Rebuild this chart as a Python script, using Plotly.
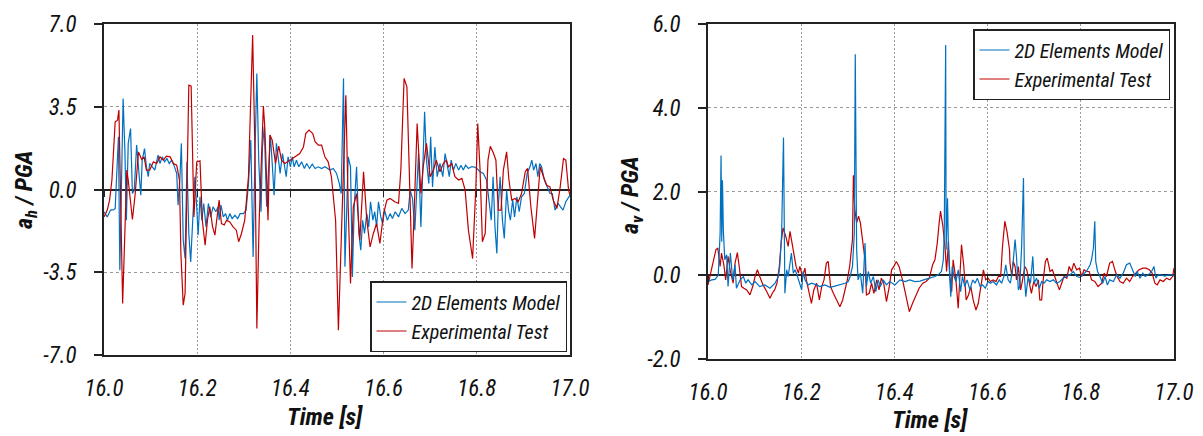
import plotly.graph_objects as go

# ---------------- data: horizontal acceleration (left) ----------------
t_h_model = [16.000, 16.007, 16.014, 16.021, 16.024, 16.027, 16.031, 16.034, 16.038, 16.041, 16.045, 16.048,
             16.052, 16.057, 16.061, 16.065, 16.070, 16.074, 16.079, 16.082, 16.087, 16.091, 16.095, 16.098,
             16.103, 16.109, 16.116, 16.120, 16.125, 16.130, 16.135, 16.140, 16.145, 16.150, 16.156, 16.159,
             16.163, 16.166, 16.170, 16.174, 16.178, 16.182, 16.186, 16.190, 16.195, 16.199, 16.202, 16.206,
             16.210, 16.214, 16.219, 16.224, 16.229, 16.234, 16.240, 16.245, 16.247, 16.251, 16.256, 16.261,
             16.265, 16.270, 16.275, 16.281, 16.287, 16.292, 16.299, 16.305, 16.310, 16.315, 16.320, 16.324,
             16.328, 16.332, 16.337, 16.340, 16.344, 16.349, 16.352, 16.357, 16.361, 16.365, 16.370, 16.374,
             16.378, 16.383, 16.387, 16.391, 16.395, 16.400, 16.404, 16.408, 16.413, 16.418, 16.424, 16.430,
             16.435, 16.441, 16.447, 16.453, 16.460, 16.467, 16.474, 16.485, 16.492, 16.499, 16.505, 16.509,
             16.514, 16.517, 16.521, 16.524, 16.529, 16.533, 16.537, 16.542, 16.547, 16.551, 16.555, 16.559,
             16.564, 16.568, 16.572, 16.577, 16.581, 16.585, 16.589, 16.594, 16.598, 16.602, 16.608, 16.614,
             16.619, 16.625, 16.632, 16.639, 16.646, 16.653, 16.657, 16.662, 16.667, 16.671, 16.675, 16.680,
             16.684, 16.688, 16.692, 16.697, 16.701, 16.705, 16.710, 16.715, 16.721, 16.727, 16.732, 16.738,
             16.741, 16.745, 16.750, 16.755, 16.761, 16.766, 16.771, 16.776, 16.782, 16.788, 16.794, 16.800,
             16.807, 16.814, 16.821, 16.826, 16.831, 16.835, 16.839, 16.843, 16.846, 16.850, 16.855, 16.859,
             16.864, 16.868, 16.872, 16.877, 16.881, 16.886, 16.891, 16.896, 16.902, 16.908, 16.914, 16.918,
             16.922, 16.927, 16.931, 16.935, 16.939, 16.945, 16.951, 16.957, 16.962, 16.968, 16.974, 16.979,
             16.985, 16.991, 16.997, 17.000]
a_h_model = [-0.94, -1.16, -0.87, -0.85, -0.80, 0.75, 2.23, -3.41, 0.11, 3.85, 1.52, -1.30,
             1.95, 2.58, -0.17, -0.03, 1.88, 0.96, -0.24, 1.24, 1.73, 0.96, 0.54, 1.10,
             0.96, 0.82, 1.45, 1.10, 1.38, 1.17, 1.31, 1.10, 1.24, 1.03, 0.68, -0.66,
             0.54, 1.95, -2.14, -2.92, 1.17, -1.86, -3.06, -1.30, 0.54, -0.73, -1.93, -0.31,
             -1.30, -0.59, -1.58, -0.59, -1.16, -0.73, -0.94, -0.73, -1.30, -0.66, -1.16, -1.02,
             -1.30, -1.02, -1.23, -1.09, -1.23, -1.02, -1.02, -0.87, 0.25, 2.09, -2.85, 1.52,
             4.91, 1.24, -0.94, 1.80, 2.65, -0.73, 0.54, 2.30, 1.10, -0.24, 1.95, 1.24,
             0.68, 1.52, 1.03, 0.54, 1.38, 0.96, 1.38, 0.96, 1.24, 0.96, 1.17, 0.89,
             1.10, 0.89, 1.07, 0.89, 0.96, 0.89, 0.96, 0.82, 0.89, 0.68, 0.25, -0.17,
             4.70, -3.27, -0.73, 1.38, 0.96, -3.70, -0.73, 0.96, -1.86, -2.57, -1.30, -1.86,
             -1.02, -1.58, -0.52, -1.30, -0.94, -1.58, -0.52, -1.16, -1.44, -0.87, -1.30, -1.02,
             -1.23, -0.94, -1.16, -0.80, -1.02, -0.87, -0.03, -0.38, -1.72, -0.31, 1.52, -1.58,
             0.82, 3.29, 1.24, 0.25, 2.23, 0.11, 1.80, 0.54, 1.10, 0.54, 1.52, 0.96,
             0.54, 1.24, 0.82, 1.10, 0.82, 1.03, 0.82, 1.03, 0.89, 0.96, 0.96, 0.89,
             0.75, 0.68, 0.40, -0.45, -1.30, 0.54, -1.58, -2.71, -0.73, 0.54, -1.30, -2.07,
             -0.03, -0.87, -1.30, -0.45, -1.16, -0.31, -0.94, -0.31, -0.17, 0.68, 0.96, 1.24,
             0.82, 1.10, 0.54, 1.10, 0.96, 0.40, 0.11, -0.17, -0.17, -0.87, -0.59, -0.73,
             -0.87, -0.52, -0.31, -0.24]

t_h_test = [16.000, 16.007, 16.012, 16.017, 16.024, 16.029, 16.032, 16.040, 16.049, 16.052, 16.061, 16.067,
            16.074, 16.081, 16.086, 16.091, 16.098, 16.106, 16.113, 16.120, 16.127, 16.134, 16.142, 16.149,
            16.156, 16.162, 16.165, 16.170, 16.174, 16.177, 16.182, 16.187, 16.193, 16.199, 16.206, 16.211,
            16.217, 16.222, 16.227, 16.233, 16.238, 16.247, 16.252, 16.258, 16.263, 16.270, 16.277, 16.284,
            16.289, 16.295, 16.302, 16.310, 16.319, 16.324, 16.328, 16.333, 16.342, 16.345, 16.352, 16.356,
            16.361, 16.368, 16.375, 16.381, 16.388, 16.399, 16.410, 16.420, 16.428, 16.433, 16.440, 16.448,
            16.453, 16.460, 16.467, 16.474, 16.481, 16.488, 16.497, 16.503, 16.510, 16.519, 16.524, 16.529,
            16.535, 16.542, 16.549, 16.557, 16.564, 16.571, 16.578, 16.585, 16.592, 16.600, 16.607, 16.614,
            16.624, 16.632, 16.637, 16.644, 16.650, 16.657, 16.661, 16.665, 16.672, 16.680, 16.685, 16.692,
            16.700, 16.707, 16.713, 16.721, 16.728, 16.735, 16.739, 16.746, 16.753, 16.761, 16.768, 16.775,
            16.782, 16.791, 16.798, 16.802, 16.807, 16.812, 16.818, 16.824, 16.829, 16.836, 16.841, 16.846,
            16.852, 16.857, 16.864, 16.869, 16.875, 16.882, 16.889, 16.896, 16.904, 16.909, 16.916, 16.924,
            16.931, 16.936, 16.943, 16.950, 16.957, 16.964, 16.972, 16.979, 16.986, 16.991, 16.997, 17.000]
a_h_test = [-1.16, -0.87, -0.45, 0.40, 2.86, 2.93, 3.36, -4.82, 0.82, 0.40, -1.27, -0.17,
            1.59, 1.27, 1.38, 0.82, 0.82, 1.17, 1.10, 1.38, 1.24, 1.41, 1.38, 1.10,
            1.03, 0.40, -2.70, -4.89, -4.40, -1.30, 4.41, 4.37, -1.16, 1.17, 1.21, -1.30,
            -2.36, -1.30, -0.73, -1.58, -1.93, -0.45, -1.44, -1.50, -1.30, -1.37, -1.58, -1.72,
            -2.21, -1.86, -1.30, 0.54, 6.53, 1.52, -5.88, -1.30, 3.53, 2.65, -1.30, 2.30,
            2.09, 1.10, 1.83, 1.24, 1.10, 1.24, 1.38, 1.52, 1.80, 2.37, 2.51, 2.37,
            2.02, 1.88, 1.88, 1.38, 1.17, 0.54, -1.30, -5.95, -1.58, 3.99, -0.73, -3.98,
            -0.73, -0.17, -2.14, 0.75, -1.30, -2.43, -1.86, -1.44, -2.28, -1.02, -0.45, -0.38,
            -0.52, -0.59, 0.82, 4.70, 4.34, -0.73, -3.34, -1.30, 2.79, -0.17, 0.96, 1.95,
            0.54, 0.82, 1.24, 0.75, 1.10, 1.24, 0.96, 1.10, 0.54, 0.40, 0.47, -0.03,
            -1.72, -2.92, 0.11, 2.79, 0.82, -2.21, -1.86, 1.24, 1.83, 1.52, 1.24, -0.87,
            -0.87, 0.82, 1.59, 0.40, -0.45, -0.38, -0.52, -0.17, 0.75, 0.89, -0.73, -2.07,
            -0.45, 0.96, 0.54, 0.18, 0.11, -0.45, -0.80, 0.11, 1.31, 1.24, -0.03, -0.24]

# ---------------- data: vertical acceleration (right) ----------------
t_v_model = [16.000, 16.008, 16.015, 16.022, 16.026, 16.028, 16.0295, 16.031, 16.033, 16.036, 16.040, 16.043,
             16.048, 16.053, 16.058, 16.061, 16.069, 16.076, 16.081, 16.086, 16.094, 16.101, 16.111, 16.122,
             16.133, 16.144, 16.151, 16.154, 16.158, 16.162, 16.165, 16.169, 16.172, 16.176, 16.179, 16.183,
             16.187, 16.192, 16.196, 16.201, 16.204, 16.208, 16.215, 16.222, 16.233, 16.240, 16.251, 16.262,
             16.272, 16.283, 16.294, 16.301, 16.305, 16.310, 16.314, 16.316, 16.319, 16.322, 16.327, 16.332,
             16.337, 16.340, 16.344, 16.349, 16.355, 16.360, 16.365, 16.370, 16.376, 16.383, 16.390, 16.401,
             16.412, 16.423, 16.433, 16.444, 16.455, 16.466, 16.476, 16.487, 16.494, 16.501, 16.505, 16.507,
             16.510, 16.511, 16.514, 16.516, 16.519, 16.521, 16.524, 16.528, 16.532, 16.537, 16.542, 16.546,
             16.551, 16.556, 16.562, 16.568, 16.573, 16.578, 16.584, 16.589, 16.595, 16.601, 16.606, 16.612,
             16.619, 16.625, 16.630, 16.635, 16.639, 16.644, 16.649, 16.654, 16.659, 16.662, 16.666, 16.669,
             16.673, 16.677, 16.679, 16.682, 16.687, 16.692, 16.697, 16.700, 16.705, 16.711, 16.716, 16.721,
             16.727, 16.734, 16.741, 16.748, 16.755, 16.762, 16.770, 16.777, 16.784, 16.791, 16.798, 16.805,
             16.812, 16.820, 16.823, 16.827, 16.830, 16.832, 16.836, 16.841, 16.847, 16.852, 16.857, 16.862,
             16.870, 16.877, 16.884, 16.891, 16.898, 16.905, 16.913, 16.917, 16.921, 16.927, 16.933, 16.938,
             16.945, 16.952, 16.957, 16.961, 16.966, 16.973, 16.980, 16.988, 16.995, 17.000]
a_v_model = [-0.15, -0.11, -0.10, 0.00, 1.00, 2.86, 0.80, 2.27, 1.05, 0.37, 0.49, -0.27,
             0.53, -0.11, 0.25, -0.31, -0.11, -0.03, -0.19, -0.11, -0.23, -0.15, -0.27, -0.23,
             -0.31, -0.19, -0.03, 0.21, 1.00, 3.29, -0.43, 0.13, -0.03, 0.29, 0.53, 0.05,
             0.13, -0.03, -0.19, -0.35, 0.09, -0.11, -0.23, -0.19, -0.23, -0.27, -0.23, -0.29,
             -0.26, -0.23, -0.19, -0.15, -0.03, 0.21, 1.00, 5.28, 0.61, -0.11, 0.05, -0.43,
             0.77, -0.27, 0.09, -0.19, -0.03, -0.39, -0.11, -0.27, -0.11, -0.23, -0.15, -0.23,
             -0.11, -0.15, -0.11, -0.15, -0.14, -0.10, -0.07, -0.03, 0.01, 0.09, 0.37, 1.00,
             5.50, 0.61, 1.84, 0.61, -0.11, -0.51, 0.21, -0.03, -0.15, 0.13, -0.39, -0.03,
             -0.27, -0.11, -0.35, -0.11, -0.19, -0.07, -0.27, -0.23, -0.31, -0.15, -0.19, -0.15,
             -0.23, -0.11, -0.19, -0.03, 0.25, -0.11, -0.19, 0.21, 0.85, 0.45, -0.35, -0.27,
             0.69, 2.32, -0.03, -0.51, -0.03, -0.19, 0.45, -0.19, -0.07, -0.31, -0.15, -0.19,
             -0.11, -0.15, -0.11, -0.19, -0.15, -0.07, -0.03, 0.01, 0.09, -0.03, -0.05, 0.01,
             0.09, 0.25, 0.37, 0.65, 1.29, 0.33, 0.09, -0.03, -0.19, -0.03, -0.23, -0.11,
             -0.15, 0.01, -0.07, 0.05, 0.25, 0.29, 0.09, -0.03, 0.09, -0.07, 0.05, -0.03,
             0.01, 0.09, 0.21, -0.07, 0.01, 0.01, -0.02, 0.01, 0.01, -0.02]

t_v_test = [16.000, 16.006, 16.011, 16.017, 16.021, 16.026, 16.029, 16.034, 16.038, 16.043, 16.048, 16.054,
            16.058, 16.063, 16.067, 16.072, 16.077, 16.083, 16.090, 16.096, 16.101, 16.106, 16.111, 16.118,
            16.126, 16.133, 16.138, 16.143, 16.148, 16.153, 16.157, 16.161, 16.167, 16.172, 16.176, 16.180,
            16.184, 16.189, 16.194, 16.197, 16.203, 16.208, 16.211, 16.217, 16.222, 16.227, 16.233, 16.239,
            16.244, 16.249, 16.254, 16.258, 16.263, 16.269, 16.276, 16.283, 16.289, 16.294, 16.299, 16.304,
            16.310, 16.312, 16.315, 16.319, 16.323, 16.327, 16.332, 16.337, 16.340, 16.346, 16.351, 16.356,
            16.362, 16.367, 16.372, 16.377, 16.383, 16.389, 16.394, 16.399, 16.404, 16.410, 16.419, 16.426,
            16.432, 16.439, 16.446, 16.453, 16.461, 16.468, 16.475, 16.482, 16.487, 16.492, 16.496, 16.499,
            16.504, 16.509, 16.512, 16.516, 16.519, 16.523, 16.526, 16.532, 16.537, 16.541, 16.544, 16.549,
            16.554, 16.559, 16.564, 16.569, 16.575, 16.580, 16.585, 16.591, 16.596, 16.601, 16.606, 16.612,
            16.618, 16.623, 16.628, 16.632, 16.637, 16.642, 16.647, 16.648, 16.652, 16.655, 16.659, 16.662,
            16.666, 16.671, 16.675, 16.680, 16.684, 16.689, 16.694, 16.699, 16.704, 16.709, 16.712, 16.716,
            16.719, 16.724, 16.728, 16.734, 16.739, 16.744, 16.749, 16.754, 16.759, 16.764, 16.770, 16.775,
            16.780, 16.785, 16.791, 16.797, 16.802, 16.807, 16.812, 16.818, 16.823, 16.830, 16.837, 16.845,
            16.850, 16.855, 16.862, 16.868, 16.873, 16.878, 16.884, 16.891, 16.898, 16.905, 16.911, 16.918,
            16.925, 16.933, 16.940, 16.947, 16.953, 16.959, 16.964, 16.970, 16.977, 16.984, 16.991, 16.997,
            17.000]
a_v_test = [-0.23, 0.05, 0.33, 0.61, 0.65, 0.21, 0.53, 0.25, -0.11, 0.45, 0.09, -0.19,
            0.29, 0.54, 0.21, -0.27, -0.31, -0.35, -0.47, -0.27, -0.03, 0.13, -0.03, -0.23,
            -0.39, -0.55, -0.43, -0.35, -0.19, 0.21, 0.77, 1.13, 0.93, 0.69, 1.05, 0.77,
            0.45, 0.21, 0.05, 0.21, -0.03, 0.17, -0.11, -0.43, -0.67, -0.35, -0.19, -0.59,
            -0.27, -0.11, 0.29, 0.33, -0.27, -0.43, -0.59, -0.75, -0.59, -0.35, -0.11, 0.21,
            0.85, 2.39, 1.57, 1.25, 1.41, 1.25, 0.77, 0.37, -0.47, -0.43, -0.19, -0.43,
            -0.11, -0.35, -0.07, -0.19, -0.63, -0.27, 0.13, 0.21, 0.33, 0.21, -0.19, -0.59,
            -0.87, -0.67, -0.51, -0.31, -0.19, -0.15, -0.07, 0.25, 0.37, 0.77, 1.25, 1.53,
            1.17, 0.61, 0.09, 0.81, -0.03, -0.39, 0.37, -0.11, -0.79, -0.03, 0.73, 0.21,
            -0.59, -0.47, -0.27, -0.59, -0.83, -0.67, -0.27, 0.13, -0.11, -0.07, -0.15, -0.11,
            -0.15, -0.03, -0.03, 0.69, 1.29, 1.01, 0.61, 0.29, -0.03, 0.33, 0.21, -0.11,
            0.21, -0.35, -0.11, 0.21, 0.13, -0.19, -0.43, -0.15, -0.27, -0.11, -0.59, -0.59,
            -0.15, 0.33, 0.41, 0.09, 0.13, -0.03, -0.19, -0.35, -0.19, -0.03, -0.07, 0.21,
            0.09, 0.29, 0.13, 0.17, -0.03, 0.13, 0.09, 0.09, -0.11, -0.15, -0.27, -0.19,
            0.05, -0.03, 0.29, 0.33, 0.13, -0.03, -0.15, -0.19, -0.07, -0.15, -0.03, 0.05,
            0.13, 0.17, 0.17, 0.13, 0.05, -0.19, -0.23, -0.11, -0.15, -0.07, -0.11, -0.03,
            0.17]

# ---------------- tick labels / names ----------------
x_ticks = [16.0, 16.2, 16.4, 16.6, 16.8, 17.0]
x_tick_text = ["16.0", "16.2", "16.4", "16.6", "16.8", "17.0"]
yh_range = [-7.0, 7.0]
yh_ticks = [-7.0, -3.5, 0.0, 3.5, 7.0]
yh_tick_text = ["-7.0", "-3.5", "0.0", "3.5", "7.0"]
yv_range = [-2.0, 6.0]
yv_ticks = [-2.0, 0.0, 2.0, 4.0, 6.0]
yv_tick_text = ["-2.0", "0.0", "2.0", "4.0", "6.0"]
series_names = ["2D Elements Model", "Experimental Test"]

BLUE = "#0070C0"
RED = "#C00000"
FONT = "Liberation Sans Narrow, Arial Narrow, Roboto Condensed, Noto Sans Condensed, Liberation Sans, Arial, sans-serif"
W, H = 1203, 436

# plot-area domains (paper fractions)
dom_x1 = [104 / W, 570 / W]
dom_y1 = [1 - 355 / H, 1 - 24 / H]
dom_x2 = [708 / W, 1174 / W]
dom_y2 = [1 - 359 / H, 1 - 24 / H]


def zero_position(dom, rng):
    # paper-y of the value 0 inside a y-axis domain
    return dom[0] + (0 - rng[0]) / (rng[1] - rng[0]) * (dom[1] - dom[0])


fig = go.Figure()

fig.add_trace(go.Scatter(x=t_h_model, y=a_h_model, mode="lines", name=series_names[0],
                         line=dict(color=BLUE, width=1.2), xaxis="x", yaxis="y", legend="legend"))
fig.add_trace(go.Scatter(x=t_h_test, y=a_h_test, mode="lines", name=series_names[1],
                         line=dict(color=RED, width=1.2), xaxis="x", yaxis="y", legend="legend"))
fig.add_trace(go.Scatter(x=t_v_test, y=a_v_test, mode="lines", name=series_names[1],
                         line=dict(color=RED, width=1.2), xaxis="x2", yaxis="y2", legend="legend2",
                         showlegend=False))
fig.add_trace(go.Scatter(x=t_v_model, y=a_v_model, mode="lines", name=series_names[0],
                         line=dict(color=BLUE, width=1.2), xaxis="x2", yaxis="y2", legend="legend2"))
fig.add_trace(go.Scatter(x=[None], y=[None], mode="lines", name=series_names[1],
                         line=dict(color=RED, width=1.2), xaxis="x2", yaxis="y2", legend="legend2"))

tickfont = dict(family=FONT, size=23, color="#111", style="italic")

common_x = dict(range=[16.0, 17.0], tickvals=x_ticks, ticktext=x_tick_text, showgrid=True,
                gridcolor="#9a9a9a", griddash="2px,2px", gridwidth=1, showline=True, mirror=True,
                linecolor="#222", linewidth=1.6, ticks="", ticklabelstandoff=12, tickfont=tickfont,
                zeroline=False, fixedrange=True, automargin=False)
common_y = dict(showgrid=True, gridcolor="#9a9a9a", griddash="3px,3px", gridwidth=1, showline=True,
                mirror=True, linecolor="#222", linewidth=1.6, ticks="outside", ticklen=8,
                tickcolor="#222", tickwidth=1.5, ticklabelstandoff=13, tickfont=tickfont,
                zeroline=True, zerolinecolor="#222", zerolinewidth=1.6, fixedrange=True,
                automargin=False)
# tick marks on the zero line (category axis crossing at 0)
zero_ticks = dict(range=[16.0, 17.0], tickvals=x_ticks, showticklabels=False, showgrid=False,
                  showline=False, zeroline=False, ticks="outside", ticklen=6, tickwidth=1.3,
                  tickcolor="#222", fixedrange=True, automargin=False, anchor="free")

fig.update_layout(
    template="none",
    width=W, height=H, margin=dict(l=0, r=0, t=0, b=0, autoexpand=False),
    paper_bgcolor="white", plot_bgcolor="white",
    font=dict(family=FONT, color="#111"),
    xaxis=dict(domain=dom_x1, anchor="y", **common_x),
    yaxis=dict(domain=dom_y1, anchor="x", range=yh_range,
               tickvals=yh_ticks, ticktext=yh_tick_text, **common_y),
    xaxis2=dict(domain=dom_x2, anchor="y2", **common_x),
    yaxis2=dict(domain=dom_y2, anchor="x2", range=yv_range,
                tickvals=yv_ticks, ticktext=yv_tick_text, **common_y),
    xaxis3=dict(domain=dom_x1, overlaying="x", position=zero_position(dom_y1, yh_range), **zero_ticks),
    xaxis4=dict(domain=dom_x2, overlaying="x2", position=zero_position(dom_y2, yv_range), **zero_ticks),
    legend=dict(x=567 / W, y=1 - 352 / H, xanchor="right", yanchor="bottom",
                bordercolor="#222", borderwidth=1.5, bgcolor="white",
                font=dict(family=FONT, size=20, color="#111", style="italic"),
                itemwidth=30, tracegroupgap=0),
    legend2=dict(x=1170 / W, y=1 - 29 / H, xanchor="right", yanchor="top",
                 bordercolor="#222", borderwidth=1.5, bgcolor="white",
                 font=dict(family=FONT, size=20, color="#111", style="italic"),
                 itemwidth=30, tracegroupgap=0),
    showlegend=True,
)

# invisible traces so the zero-line tick axes are drawn
fig.add_trace(go.Scatter(x=[None], y=[None], xaxis="x3", yaxis="y", showlegend=False, hoverinfo="skip"))
fig.add_trace(go.Scatter(x=[None], y=[None], xaxis="x4", yaxis="y2", showlegend=False, hoverinfo="skip"))

title_font = dict(family=FONT, size=24, color="#111", weight="bold", style="italic")
fig.add_annotation(text="Time [s]", xref="paper", yref="paper", x=325 / W, y=1 - 417 / H,
                   showarrow=False, font=title_font, xanchor="center", yanchor="middle")
fig.add_annotation(text="Time [s]", xref="paper", yref="paper", x=930 / W, y=1 - 420 / H,
                   showarrow=False, font=title_font, xanchor="center", yanchor="middle")
fig.add_annotation(text="a<sub>h</sub> / PGA", xref="paper", yref="paper", x=26 / W, y=1 - 190 / H,
                   showarrow=False, font=title_font, textangle=-90, xanchor="center", yanchor="middle")
fig.add_annotation(text="a<sub>v</sub> / PGA", xref="paper", yref="paper", x=631 / W, y=1 - 195 / H,
                   showarrow=False, font=title_font, textangle=-90, xanchor="center", yanchor="middle")

fig.write_html("out.html")
